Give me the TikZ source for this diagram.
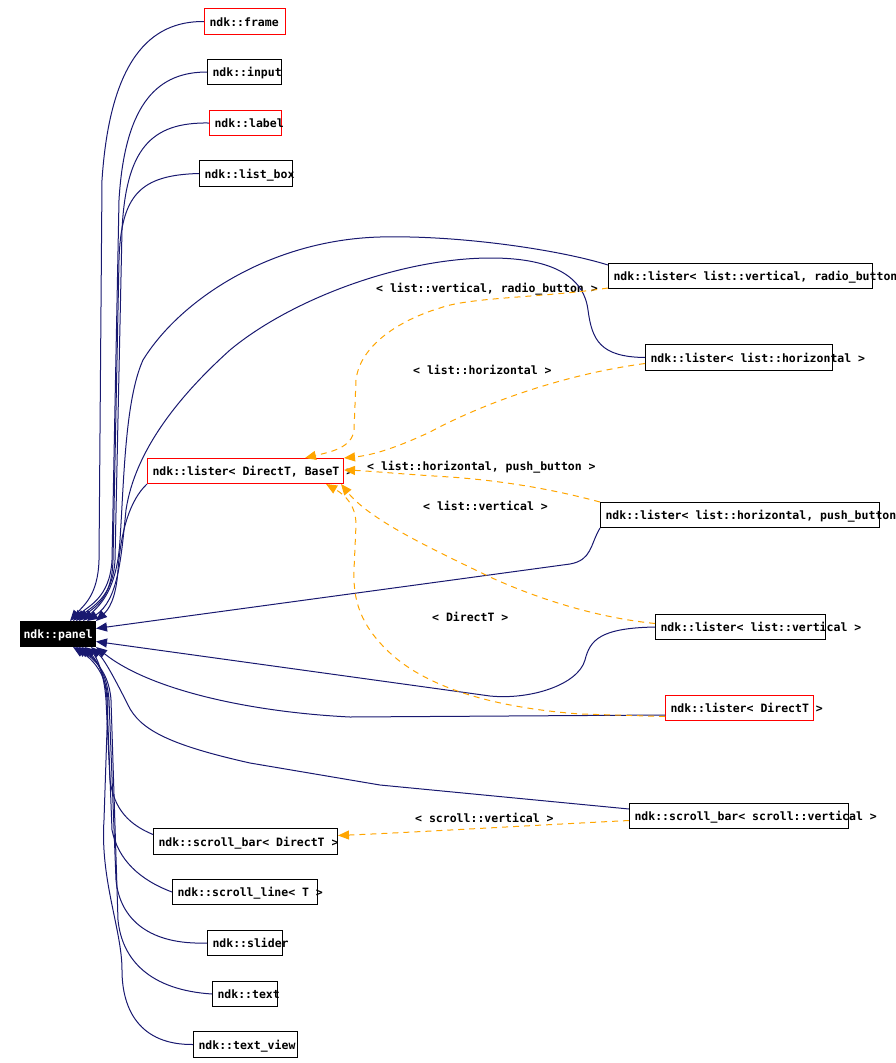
\documentclass[tikz,border=0pt]{standalone}
\usepackage{fontspec}
\newfontfamily\dvmono{DejaVu Sans Mono}
\usetikzlibrary{arrows.meta}
\definecolor{navyedge}{HTML}{191970}
\definecolor{orangeedge}{HTML}{FFA500}
\newcommand\clsfont{\dvmono\bfseries\fontsize{11.5pt}{13pt}\selectfont}
\newcommand\cl[2]{\makebox[\dimexpr#1pt-10pt\relax][l]{#2}}
\tikzset{
  cls/.style={draw=black, fill=white, line width=1pt, inner xsep=5pt, inner ysep=0pt,
    text height=9.5pt, text depth=0pt, minimum height=25pt, anchor=north west, font=\clsfont},
  tpl/.style={cls, draw=red},
  lbl/.style={inner sep=0pt, text height=9.5pt, text depth=0pt, anchor=west, font=\clsfont},
  inh/.style={draw=navyedge, line width=1pt, -{Triangle[length=11pt,width=9pt]}},
  tmpl/.style={draw=orangeedge, line width=1pt, dash pattern=on 6pt off 5pt,
    -{Triangle[length=11pt,width=9pt]}},
}
\begin{document}
\begin{tikzpicture}[x=1pt,y=-1pt]
\useasboundingbox (0,0) rectangle (896,1063);
% nodes
\node[cls, fill=black, text=white, draw=black, inner xsep=3pt] (panel) at (20,621) {\makebox[69pt][l]{ndk::panel}};
\node[tpl, minimum height=26pt] (frame) at (204,8) {\cl{81}{ndk::frame}};
\node[cls] (input) at (207,59) {\cl{74}{ndk::input}};
\node[tpl] (label) at (209,110) {\cl{72}{ndk::label}};
\node[cls, minimum height=26pt] (listbox) at (199,160) {\cl{93}{ndk::list\_box}};
\node[cls] (radio) at (608,263) {\cl{264}{ndk::lister< list::vertical, radio\_button >}};
\node[cls, minimum height=26pt] (horiz) at (645,344) {\cl{187}{ndk::lister< list::horizontal >}};
\node[tpl] (dbt) at (147,458) {\cl{196}{ndk::lister< DirectT, BaseT >}};
\node[cls] (push) at (600,502) {\cl{279}{ndk::lister< list::horizontal, push\_button >}};
\node[cls] (vert) at (655,614) {\cl{170}{ndk::lister< list::vertical >}};
\node[tpl] (directT) at (665,695) {\cl{148}{ndk::lister< DirectT >}};
\node[cls] (sbv) at (629,803) {\cl{219}{ndk::scroll\_bar< scroll::vertical >}};
\node[cls, minimum height=26pt] (sbd) at (153,828) {\cl{184}{ndk::scroll\_bar< DirectT >}};
\node[cls] (sline) at (172,879) {\cl{145}{ndk::scroll\_line< T >}};
\node[cls] (slider) at (207,930) {\cl{75}{ndk::slider}};
\node[cls] (text) at (212,981) {\cl{65}{ndk::text}};
\node[cls, minimum height=26pt] (tview) at (193,1031) {\cl{104}{ndk::text\_view}};
% edge labels
\node[lbl] (l1) at (376,288) {< list::vertical, radio\_button >};
\node[lbl] (l2) at (413,370) {< list::horizontal >};
\node[lbl] (l3) at (367,466) {< list::horizontal, push\_button >};
\node[lbl] (l4) at (423,506) {< list::vertical >};
\node[lbl] (l5) at (432,617) {< DirectT >};
\node[lbl] (l6) at (415,818) {< scroll::vertical >};
% inheritance edges (upper)
\draw[inh] (frame.west) .. controls (150,21) and (110,60) .. (102,180) -- (99,560)
  .. controls (98,595) and (84,605) .. ([xshift=50pt]panel.north west);
\draw[inh] (input.west) .. controls (160,72) and (125,100) .. (119,200) -- (112,560)
  .. controls (110,598) and (88,606) .. ([xshift=53pt]panel.north west);
\draw[inh] (label.west) .. controls (150,122) and (126,150) .. (122,230) -- (115,560)
  .. controls (113,598) and (91,607) .. ([xshift=56pt]panel.north west);
\draw[inh] (listbox.west) .. controls (140,175) and (121,195) .. (119,260) -- (113,560)
  .. controls (112,600) and (94,607) .. ([xshift=59pt]panel.north west);
\draw[inh] ([yshift=-2pt]radio.north west) .. controls (560,250) and (460,235) .. (380,237)
  .. controls (270,240) and (180,300) .. (143,360)
  .. controls (125,400) and (124,480) .. (120,540)
  .. controls (117,590) and (100,605) .. ([xshift=63pt]panel.north west);
\draw[inh] (horiz.west) .. controls (600,357) and (592,340) .. (588,310)
  .. controls (583,270) and (540,258) .. (491,258)
  .. controls (400,258) and (290,300) .. (230,350)
  .. controls (180,395) and (135,450) .. (126,510)
  .. controls (121,560) and (118,600) .. ([xshift=67pt]panel.north west);
\draw[inh] (dbt.south west) .. controls (130,500) and (121,530) .. (118,570)
  .. controls (116,600) and (108,610) .. (panel.north east);
\draw[inh] (push.south west) .. controls (590,545) and (592,560) .. (570,564)
  -- ([yshift=5.5pt]panel.east);
\draw[inh] (vert.west) .. controls (600,628) and (590,640) .. (585,660)
  .. controls (578,685) and (530,700) .. (490,696) -- ([yshift=-7.5pt]panel.east);
% inheritance edges (lower)
\draw[inh] ([yshift=-7pt]directT.west) -- (350,717)
  .. controls (250,712) and (150,690) .. (panel.south east);
\draw[inh] ([yshift=7pt]sbv.west) -- (380,785) -- (250,763)
  .. controls (170,745) and (140,730) .. (128,705)
  .. controls (118,685) and (105,660) .. ([xshift=-5pt]panel.south east);
\draw[inh] ([yshift=7pt]sbd.west) .. controls (130,825) and (114,810) .. (110,780)
  -- (106,700) .. controls (104,670) and (95,655) .. ([xshift=65pt]panel.south west);
\draw[inh] (sline.west) .. controls (140,880) and (118,860) .. (112,830)
  -- (107,700) .. controls (105,668) and (92,655) .. ([xshift=62pt]panel.south west);
\draw[inh] (slider.west) .. controls (150,945) and (120,920) .. (116,880)
  -- (109,700) .. controls (107,668) and (90,655) .. ([xshift=59pt]panel.south west);
\draw[inh] (text.west) .. controls (150,990) and (122,960) .. (118,920)
  -- (111,700) .. controls (109,668) and (88,655) .. ([xshift=56pt]panel.south west);
\draw[inh] (tview.west) .. controls (140,1045) and (122,1010) .. (122,970)
  .. controls (122,930) and (100,880) .. (104,820)
  -- (108,700) .. controls (106,668) and (86,655) .. ([xshift=53pt]panel.south west);
% template instantiation edges
\draw[tmpl] ([yshift=1pt]radio.south west) .. controls (540,298) and (470,297) .. (440,308)
  .. controls (400,320) and (360,345) .. (356,380) -- (354,430)
  .. controls (352,448) and (330,452) .. ([xshift=158pt]dbt.north west);
\draw[tmpl] ([yshift=-6pt]horiz.west) .. controls (560,375) and (480,405) .. (430,432)
  .. controls (400,446) and (375,455) .. (dbt.north east);
\draw[tmpl] (push.north west) .. controls (570,494) and (520,482) .. (450,477)
  .. controls (400,474) and (370,471) .. ([yshift=-12pt]dbt.north east);
\draw[tmpl] ([yshift=3.5pt]vert.west) .. controls (600,618) and (540,600) .. (490,577)
  .. controls (430,548) and (370,520) .. ([xshift=-3pt]dbt.south east);
\draw[tmpl] ([yshift=-8.5pt]directT.west) -- (580,714)
  .. controls (500,708) and (430,690) .. (390,653)
  .. controls (360,625) and (353,600) .. (354,570) -- (356,525)
  .. controls (356,505) and (345,495) .. ([xshift=-18pt]dbt.south east);
\draw[tmpl] ([yshift=-4.5pt]sbv.west) .. controls (520,826) and (420,832) .. ([yshift=6pt]sbd.east);
\end{tikzpicture}
\end{document}
